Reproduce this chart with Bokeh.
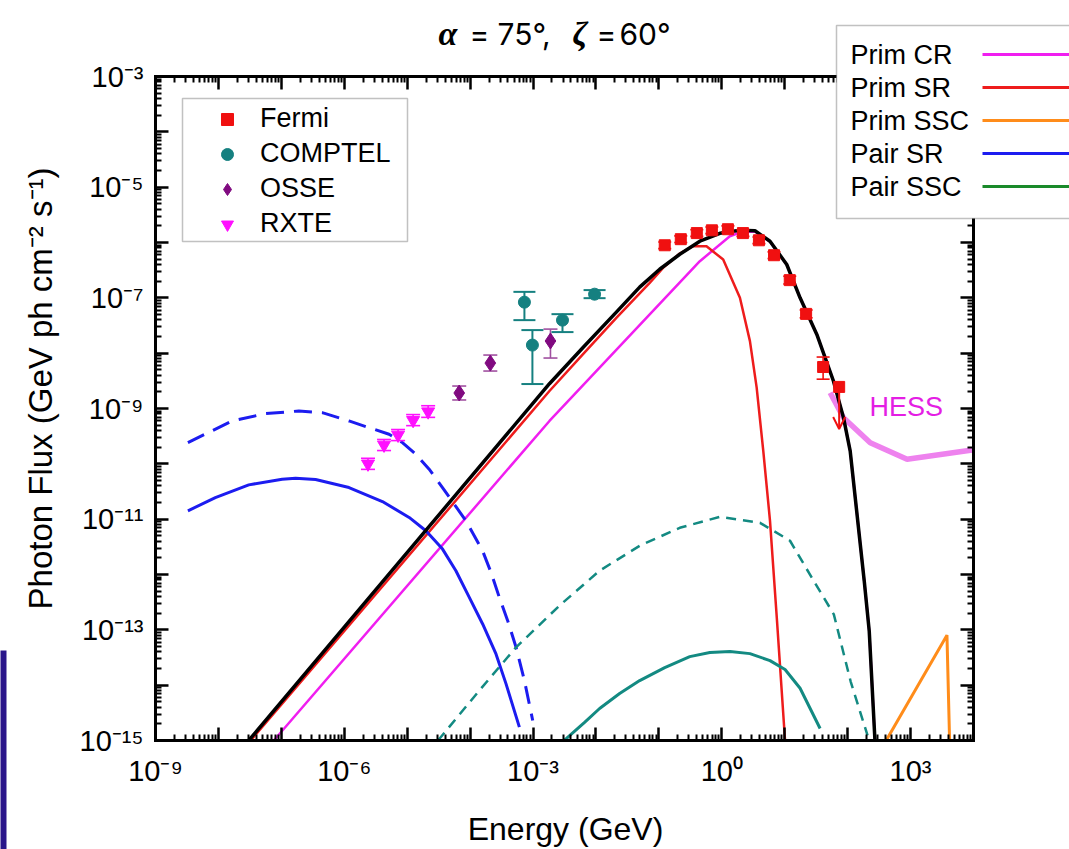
import numpy as np
from bokeh.plotting import figure
from bokeh.models import (FixedTicker, CustomJSTickFormatter, LogAxis, Label,
                          BoxAnnotation, Arrow, OpenHead, Range1d)
from bokeh.embed import file_html
from bokeh.resources import INLINE

# ---------------- data: log10(E / GeV) and log10(flux) ----------------
fermi_logE = [-0.907, -0.652, -0.397, -0.158, 0.097, 0.336, 0.590, 0.830, 1.080, 1.340, 1.610]
fermi_logF = [-6.05, -5.94, -5.83, -5.78, -5.76, -5.83, -5.96, -6.23, -6.68, -7.29, -8.25]
fermi_hi = [-5.99, -5.88, -5.77, -5.72, -5.70, -5.77, -5.90, -6.17, -6.61, -7.22, -8.07]
fermi_lo = [-6.11, -6.00, -5.89, -5.84, -5.82, -5.89, -6.02, -6.29, -6.75, -7.36, -8.47]
fermi_ul_logE = [1.865]
fermi_ul_logF = [-8.61]
fermi_ul_tip = [-9.37]

comptel_logE = [-3.137, -3.010, -2.532, -2.022]
comptel_logF = [-7.078, -7.854, -7.403, -6.934]
comptel_hi = [-6.892, -7.583, -7.295, -6.860]
comptel_lo = [-7.403, -8.558, -7.619, -7.006]

osse_logE = [-4.173, -3.679, -2.723]
osse_logF = [-8.720, -8.179, -7.780]
osse_hi = [-8.594, -8.034, -7.565]
osse_lo = [-8.846, -8.323, -8.088]

rxte_logE = [-5.623, -5.368, -5.145, -4.906, -4.667]
rxte_logF = [-10.00, -9.658, -9.478, -9.213, -9.057]
rxte_hi = [-9.90, -9.56, -9.38, -9.11, -8.95]
rxte_lo = [-10.10, -9.76, -9.58, -9.31, -9.16]

total_logE = [-7.518, -2.739, -2.209, -1.676, -1.305, -0.987, -0.668, -0.349, -0.031, 0.288,
              0.527, 0.766, 1.032, 1.244, 1.510, 1.774, 1.934, 2.040, 2.263, 2.343, 2.434]
total_logF = [-15.0, -8.552, -7.903, -7.258, -6.807, -6.483, -6.212, -5.977, -5.833, -5.779,
              -5.788, -5.977, -6.398, -7.000, -7.661, -8.503, -9.166, -9.766, -12.112, -13.023, -15.0]

prim_cr_logE = [-7.120, -2.739, -0.349, 0.128, 0.315, 0.527, 0.766, 1.032, 1.244,
                1.510, 1.774, 1.934, 2.040, 2.263, 2.343, 2.434]
prim_cr_logF = [-15.0, -9.225, -6.338, -5.887, -5.809, -5.800, -5.985, -6.398, -7.000,
                -7.661, -8.503, -9.166, -9.766, -12.112, -13.023, -15.0]

prim_sr_logE = [-7.487, -2.739, -2.209, -1.676, -1.146, -0.934, -0.668, -0.456, -0.243, 0.022,
                0.288, 0.447, 0.554, 0.659, 0.766, 0.877, 1.005]
prim_sr_logF = [-15.0, -8.684, -8.022, -7.361, -6.729, -6.459, -6.200, -6.067, -6.067, -6.308,
                -7.000, -7.782, -8.624, -9.766, -11.03, -12.834, -15.0]

prim_ssc_logE = [2.612, 3.578, 3.620]
prim_ssc_logF = [-15.0, -13.096, -15.0]

pair_sr_logE = [-8.485, -8.049, -7.518, -6.987, -6.774, -6.456, -5.925, -5.394, -4.969, -4.703,
                -4.438, -4.226, -4.013, -3.801, -3.589, -3.429, -3.217]
pair_sr_logF = [-10.849, -10.609, -10.380, -10.278, -10.259, -10.284, -10.429, -10.681, -10.969, -11.210,
                -11.541, -11.932, -12.414, -12.894, -13.435, -13.977, -14.759]

pair_sr_b_logE = [-8.485, -7.784, -7.253, -6.722, -6.350, -5.925, -5.607, -5.288, -5.076, -4.863,
                  -4.651, -4.439, -4.253, -4.066, -3.802, -3.668, -3.536, -3.403, -3.270, -3.137, -3.005]
pair_sr_b_logF = [-9.617, -9.225, -9.093, -9.045, -9.075, -9.225, -9.346, -9.465, -9.616, -9.826,
                  -10.097, -10.429, -10.729, -11.030, -11.571, -11.962, -12.414, -12.834, -13.316, -13.917, -14.638]

pair_ssc_logE = [-2.505, -2.468, -2.181, -1.942, -1.624, -1.305, -0.907, -0.509, -0.190, 0.130,
                 0.447, 0.766, 1.005, 1.244, 1.562]
pair_ssc_logF = [-15.0, -14.963, -14.674, -14.422, -14.151, -13.917, -13.682, -13.484, -13.411, -13.393,
                 -13.430, -13.556, -13.718, -14.055, -14.783]

pair_ssc_b_logE = [-4.510, -3.854, -3.270, -2.580, -1.943, -1.305, -0.668, -0.031, 0.607, 1.084,
                   1.459, 1.780, 2.048, 2.316]
pair_ssc_b_logF = [-15.0, -14.097, -13.316, -12.563, -11.932, -11.481, -11.156, -10.957, -11.066, -11.390,
                   -12.112, -12.720, -13.935, -14.909]

hess_logE = [1.722, 1.934, 2.359, 2.944, 3.952, 4.000]
hess_logF = [-8.715, -9.166, -9.617, -9.916, -9.754, -9.750]

# axis extent (decades)
x_decades = list(range(-9, 5))
y_decades = list(range(-15, -2))

# ---------------- colours ----------------
C_CR = "#f01ef0"
C_SR = "#ee1c1c"
C_SSC = "#ff8c1a"
C_PSR = "#1c1cf0"
C_PSSC_LEG = "#1a8a2a"
C_PSSC = "#138a82"
C_FERMI = "#f01010"
C_COMPTEL = "#158080"
C_OSSE = "#800a80"
C_RXTE = "#ff10ff"
C_HESS = "#ee82ee"

# ---------------- geometry: the box of the axes on the page ----------------
W, H = 1069, 849
BL, BR, BT, BB = 155, 973, 76, 740
PX_X = (BR - BL) / (x_decades[-1] - x_decades[0])
PX_Y = (BB - BT) / (y_decades[-1] - y_decades[0])


def cx(px):
    return 10 ** (x_decades[0] + (px - BL) / PX_X)


def cy(py):
    return 10 ** (y_decades[-1] - (py - BT) / PX_Y)


def pw(a):
    return [float(v) for v in np.power(10.0, np.asarray(a, dtype=float))]


p = figure(width=W, height=H, x_axis_type="log", y_axis_type="log",
           x_axis_location=None, y_axis_location=None,
           x_range=Range1d(cx(0), cx(W)), y_range=Range1d(cy(H), cy(0)),
           output_backend="svg", toolbar_location=None,
           min_border=0, min_border_left=0, min_border_right=0,
           min_border_top=0, min_border_bottom=0)
p.outline_line_color = None
p.background_fill_color = "white"
p.border_fill_color = "white"
p.xgrid.visible = False
p.ygrid.visible = False

SUP = ('const s = {"-":"\u207b","0":"\u2070","1":"\u00b9","2":"\u00b2","3":"\u00b3",'
       '"4":"\u2074","5":"\u2075","6":"\u2076","7":"\u2077","8":"\u2078","9":"\u2079"};')
xfmt = CustomJSTickFormatter(code=SUP + """
const e = Math.round(Math.log10(tick));
if (e % 3 !== 0) return "";
return "10" + String(e).split("").map(c => s[c]).join("");
""")
yfmt = CustomJSTickFormatter(code=SUP + """
const e = Math.round(Math.log10(tick));
if (Math.abs(e) % 2 !== 1) return "";
return "10" + String(e).split("").map(c => s[c]).join("");
""")

x_major = [10.0 ** k for k in x_decades]
x_minor = [m * 10.0 ** k for k in x_decades[:-1] for m in range(2, 10)]
y_major = [10.0 ** k for k in y_decades]
y_minor = [m * 10.0 ** k for k in y_decades[:-1] for m in range(2, 10)]
x_bounds = (x_major[0], x_major[-1])
y_bounds = (y_major[0], y_major[-1])


def frame_axis(side, loc, ticks, minor, bounds, fmt=None, standoff=12):
    ax = LogAxis(fixed_location=loc, bounds=bounds,
                 ticker=FixedTicker(ticks=ticks, minor_ticks=minor))
    ax.formatter = fmt if fmt is not None else CustomJSTickFormatter(code='return "";')
    ax.axis_line_width = 3
    ax.axis_line_color = "black"
    ax.axis_line_cap = "square"
    ax.major_tick_in = 13
    ax.major_tick_out = 0
    ax.minor_tick_in = 6
    ax.minor_tick_out = 0
    ax.major_tick_line_width = 2.5
    ax.major_tick_line_color = "black"
    ax.minor_tick_line_width = 2
    ax.minor_tick_line_color = "black"
    ax.major_label_text_font = "Liberation Sans"
    ax.major_label_text_font_size = "29px" if fmt is not None else "1px"
    ax.major_label_text_color = "black"
    ax.major_label_standoff = standoff
    p.add_layout(ax, side)


frame_axis("below", y_bounds[0], x_major, x_minor, x_bounds, fmt=xfmt, standoff=14)
frame_axis("above", y_bounds[1], x_major, x_minor, x_bounds)
frame_axis("left", x_bounds[0], y_major, y_minor, y_bounds, fmt=yfmt, standoff=12)
frame_axis("right", x_bounds[1], y_major, y_minor, y_bounds)

# axis titles
p.add_layout(Label(x=cx(565), y=cy(828), text="Energy (GeV)", text_font="Liberation Sans",
                   text_font_size="32px", text_color="black",
                   text_align="center", text_baseline="middle"))
p.add_layout(Label(x=cx(40), y=cy(388), text="Photon Flux (GeV ph cm\u207b\u00b2 s\u207b\u00b9)",
                   text_font="Liberation Sans", text_font_size="33px", text_color="black",
                   angle=np.pi / 2, text_align="center", text_baseline="middle"))

# ---------------- model curves ----------------
p.line(pw(prim_cr_logE), pw(prim_cr_logF), line_color=C_CR, line_width=2.5)
p.line(pw(prim_sr_logE), pw(prim_sr_logF), line_color=C_SR, line_width=2.5)
p.line(pw(pair_sr_logE), pw(pair_sr_logF), line_color=C_PSR, line_width=3)
p.line(pw(pair_sr_b_logE), pw(pair_sr_b_logF), line_color=C_PSR, line_width=3, line_dash="18 10")
p.line(pw(pair_ssc_logE), pw(pair_ssc_logF), line_color=C_PSSC, line_width=3)
p.line(pw(pair_ssc_b_logE), pw(pair_ssc_b_logF), line_color=C_PSSC, line_width=2.5, line_dash="10 7")
p.line(pw(prim_ssc_logE), pw(prim_ssc_logF), line_color=C_SSC, line_width=3)
p.line(pw(hess_logE), pw(hess_logF), line_color=C_HESS, line_width=5.5)
p.line(pw(total_logE), pw(total_logF), line_color="black", line_width=3.5)


# ---------------- data points with error bars ----------------
def errbars(xs, hi, lo, color, cap, width=1.6):
    X = pw(xs)
    p.segment(X, pw(hi), X, pw(lo), line_color=color, line_width=width)
    p.scatter(X + X, pw(hi) + pw(lo), marker="dash", size=cap,
              line_color=color, line_width=width)


errbars(rxte_logE, rxte_hi, rxte_lo, C_RXTE, 14)
errbars(osse_logE, osse_hi, osse_lo, "#a050a0", 14)
errbars(comptel_logE, comptel_hi, comptel_lo, C_COMPTEL, 22, 2)
errbars(fermi_logE, fermi_hi, fermi_lo, C_FERMI, 13)

p.scatter(pw(fermi_logE + fermi_ul_logE), pw(fermi_logF + fermi_ul_logF), marker="square", size=11,
          fill_color=C_FERMI, line_color=C_FERMI, legend_label="Fermi")
p.scatter(pw(comptel_logE), pw(comptel_logF), marker="circle", size=12,
          fill_color=C_COMPTEL, line_color=C_COMPTEL, legend_label="COMPTEL")
p.scatter(pw(osse_logE), pw(osse_logF), marker="diamond", size=16,
          fill_color=C_OSSE, line_color=C_OSSE, legend_label="OSSE")
p.scatter(pw(rxte_logE), pw(rxte_logF), marker="inverted_triangle", size=13,
          fill_color=C_RXTE, line_color=C_RXTE, legend_label="RXTE")

ul_x = pw(fermi_ul_logE)[0]
p.add_layout(Arrow(x_start=ul_x, y_start=pw(fermi_ul_logF)[0], x_end=ul_x, y_end=pw(fermi_ul_tip)[0],
                   line_color=C_FERMI, line_width=2,
                   end=OpenHead(size=12, line_color=C_FERMI, line_width=2)))

p.add_layout(Label(x=cx(869), y=cy(406), text="HESS", text_color="#e41ee4",
                   text_font="Liberation Sans", text_font_size="27px",
                   text_baseline="middle", text_align="left"))

# ---------------- instrument legend (frame drawn separately) ----------------
p.add_layout(BoxAnnotation(left=cx(182), right=cx(407), top=cy(98), bottom=cy(241),
                           fill_color="white", fill_alpha=1.0,
                           line_color="#333333", line_width=1.5, level="underlay"))
lg = p.legend[0]
lg.location = (194, H - 239)
lg.label_text_font = "Liberation Sans"
lg.label_text_font_size = "27px"
lg.label_text_color = "black"
lg.padding = 0
lg.spacing = 4
lg.margin = 0
lg.glyph_width = 66
lg.glyph_height = 30
lg.label_height = 30
lg.label_standoff = 0
lg.border_line_color = None
lg.background_fill_alpha = 0.0

# ---------------- model legend (text on the left, line sample on the right) ----------------
p.add_layout(BoxAnnotation(left=cx(836), right=cx(1090), top=cy(25), bottom=cy(218),
                           fill_color="white", fill_alpha=1.0,
                           line_color="#333333", line_width=1.5, level="overlay"))
model_names = ["Prim CR", "Prim SR", "Prim SSC", "Pair SR", "Pair SSC"]
model_colors = [C_CR, C_SR, C_SSC, C_PSR, C_PSSC_LEG]
for i, (name, col) in enumerate(zip(model_names, model_colors)):
    yc = 54 + 33 * i
    p.add_layout(Label(x=cx(850), y=cy(yc), text=name, text_font="Liberation Sans",
                       text_font_size="27px", text_color="black",
                       text_baseline="middle", text_align="left", level="overlay"))
    p.add_layout(BoxAnnotation(left=cx(982), right=cx(1090), top=cy(yc - 1.5), bottom=cy(yc + 1.5),
                               fill_color=col, fill_alpha=1.0, line_alpha=0, level="overlay"))

# ---------------- title ----------------
title_y = cy(33)
for txt, xp, font, style, size in [("\u03b1", 438, "Liberation Serif", "bold italic", "34px"),
                                   ("=", 469, "Inter", "normal", "30px"),
                                   ("75\u00b0,", 497, "Inter", "normal", "30px"),
                                   ("\u03b6", 572, "Liberation Serif", "bold italic", "34px"),
                                   ("=", 596, "Inter", "normal", "30px"),
                                   ("60\u00b0", 619, "Inter", "normal", "30px")]:
    p.add_layout(Label(x=cx(xp), y=title_y, text=txt, text_font=font, text_font_style=style,
                       text_font_size=size, text_color="black",
                       text_baseline="alphabetic", text_align="left"))

# dark strip at the lower left edge of the page
p.add_layout(BoxAnnotation(left=cx(-5), right=cx(6), top=cy(650), bottom=cy(860),
                           fill_color="#2a168a", fill_alpha=1.0, line_alpha=0))

with open("out.html", "w", encoding="utf-8") as f:
    f.write(file_html(p, INLINE))
